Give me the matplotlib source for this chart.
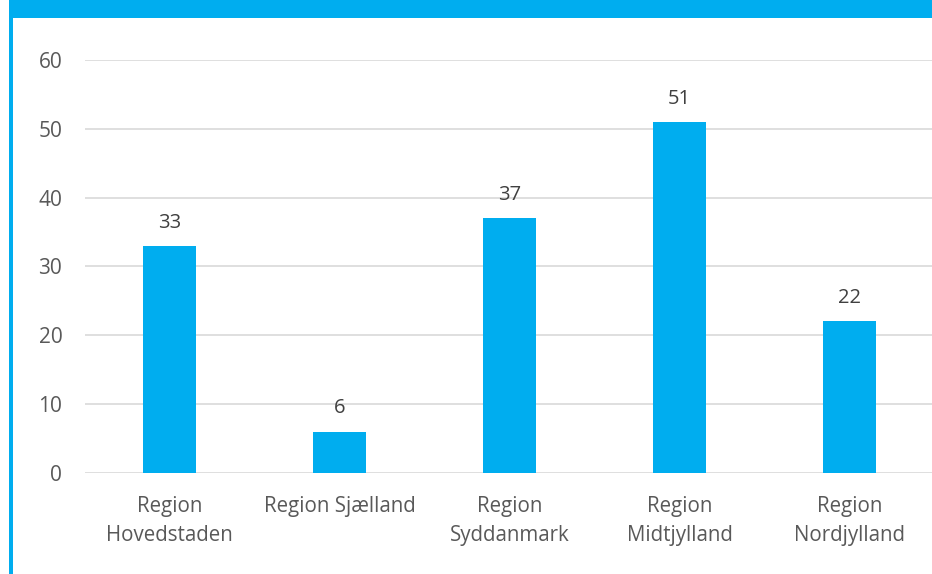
import matplotlib
matplotlib.use("Agg")
import matplotlib.pyplot as plt
from matplotlib.patches import Rectangle

regions = ["Region\nHovedstaden", "Region Sjælland", "Region\nSyddanmark",
           "Region\nMidtjylland", "Region\nNordjylland"]
values = [33, 6, 37, 51, 22]
y_ticks = [0, 10, 20, 30, 40, 50, 60]

BLUE = "#00ADEF"
plt.rcParams["font.family"] = ["Open Sans", "DejaVu Sans"]

W, H = 932, 574
fig = plt.figure(figsize=(W / 100, H / 100), dpi=100)
fig.patch.set_facecolor("white")

# frame: top banner and left border strip
fig.add_artist(Rectangle((9 / W, 1 - 17.5 / H), 1, 17.5 / H,
                         transform=fig.transFigure, color=BLUE, lw=0, zorder=0))
fig.add_artist(Rectangle((9 / W, 0), 4 / W, 1,
                         transform=fig.transFigure, color=BLUE, lw=0, zorder=0))

left_px, right_px = 84.5, 934.5
top_px, bottom_px = 60.0, 472.8
ax = fig.add_axes([left_px / W, (H - bottom_px) / H,
                   (right_px - left_px) / W, (bottom_px - top_px) / H])
ax.set_facecolor("none")

x = list(range(len(regions)))
bars = ax.bar(x, values, width=0.31, color=BLUE, zorder=3)
for xi, v in zip(x, values):
    ax.annotate(f"{v}", (xi, v), xytext=(0, 13), textcoords="offset points",
                ha="center", va="baseline", fontsize=14.5, color="#404040")

ax.set_xlim(-0.5, len(regions) - 0.5)
ax.set_ylim(0, 60)
ax.set_yticks(y_ticks)
ax.set_yticklabels([str(t) for t in y_ticks])
ax.set_xticks(x)
ax.set_xticklabels(regions, linespacing=1.45)
ax.tick_params(axis="both", length=0, labelcolor="#595959")
ax.tick_params(axis="y", pad=16, labelsize=15)
ax.tick_params(axis="x", pad=17, labelsize=14.8)
ax.grid(axis="y", color="#D9D9D9", lw=1.2, zorder=0)
for s in ax.spines.values():
    s.set_visible(False)

fig.savefig("out.png", dpi=100, facecolor="white")
